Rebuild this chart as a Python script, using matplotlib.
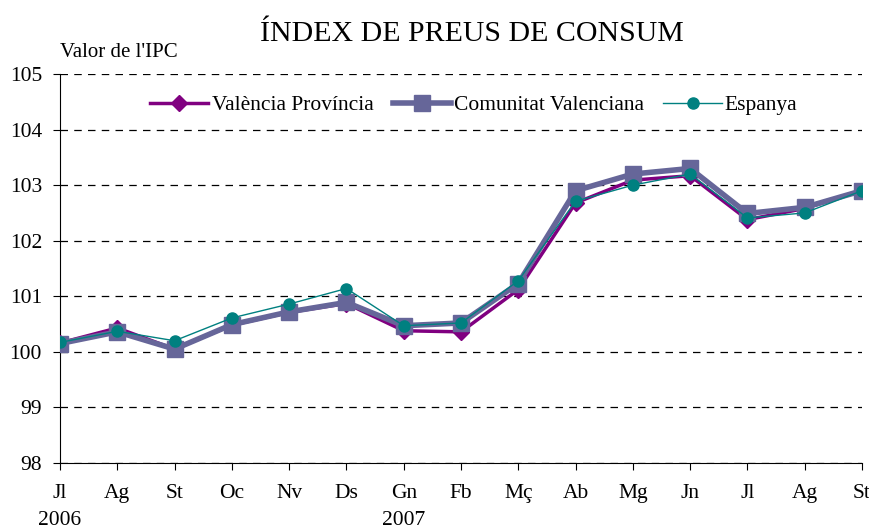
import numpy as np
import matplotlib.pyplot as plt

plt.rcParams['font.family'] = ['Liberation Serif', 'DejaVu Serif']

months = ['Jl\n2006', 'Ag', 'St', 'Oc', 'Nv', 'Ds', 'Gn\n2007', 'Fb', 'Mç',
          'Ab', 'Mg', 'Jn', 'Jl', 'Ag', 'St']
valencia = [100.16, 100.43, 100.05, 100.48, 100.71, 100.87, 100.38, 100.36, 101.12,
            102.68, 103.09, 103.17, 102.38, 102.58, 102.9]
comunitat = [100.15, 100.36, 100.05, 100.49, 100.72, 100.89, 100.47, 100.52, 101.23,
             102.9, 103.2, 103.3, 102.49, 102.6, 102.9]
espanya = [100.17, 100.37, 100.2, 100.61, 100.86, 101.14, 100.47, 100.52, 101.28,
           102.71, 103.0, 103.2, 102.41, 102.5, 102.9]

fig = plt.figure(figsize=(8.7, 5.31), dpi=100)
ax = fig.add_axes([60/870, 1-463/531, 802/870, 389/531])
x = np.arange(len(months))

ax.plot(x, valencia, color='#800080', lw=2.5, marker='D', ms=8,
        label='València Província', zorder=3)
ax.plot(x, comunitat, color='#666699', lw=4, marker='s', ms=12,
        label='Comunitat Valenciana', zorder=4)
ax.plot(x, espanya, color='#008080', lw=1, marker='o', ms=8,
        label='Espanya', zorder=5)

ax.set_xlim(0, len(months)-1)
ax.set_ylim(98, 105)
ax.set_yticks(range(98, 106))
ax.set_xticks(x)
ax.set_xticklabels(months, fontsize=15.5, linespacing=1.6, va='top')
ax.tick_params(axis='y', labelsize=15.5, direction='out', length=5, pad=8)
ax.tick_params(axis='x', direction='out', length=5, pad=10)
ax.grid(axis='y', color='black', linestyle=(0, (6, 5)), lw=0.9)
ax.grid(axis='x', visible=False)
for s in ['top', 'right']:
    ax.spines[s].set_visible(False)

ax.set_title('ÍNDEX DE PREUS DE CONSUM', fontsize=21.5, pad=24, x=0.514)
ax.text(0, 1.03, "Valor de l'IPC", transform=ax.transAxes, fontsize=15,
        ha='left', va='bottom')

ax.legend(loc='upper center', bbox_to_anchor=(0.516, 0.995), ncol=3, frameon=False,
          fontsize=15.5, handlelength=2.7, columnspacing=0.9, handletextpad=0.15)

fig.savefig('out.png', dpi=100)
